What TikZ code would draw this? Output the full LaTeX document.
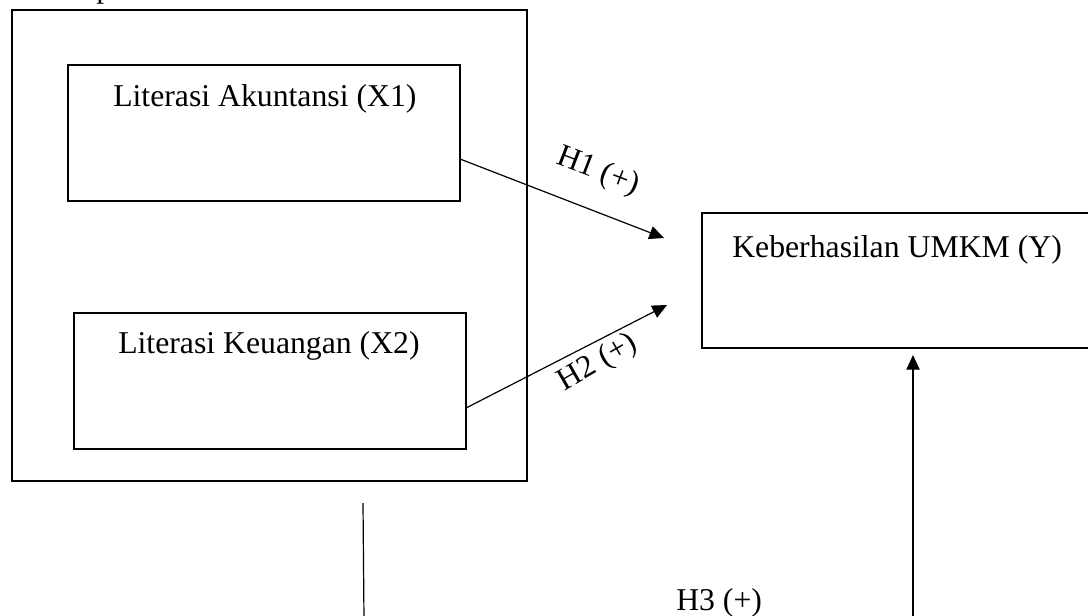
\documentclass[tikz,border=0pt]{standalone}
\usepackage{fontspec}
\setmainfont{Liberation Serif}
\usetikzlibrary{arrows.meta,calc}
\begin{document}
\begin{tikzpicture}[x=0.75pt,y=-0.75pt,
 box/.style={draw, line width=2pt, rectangle, inner sep=0pt, outer sep=0pt},
 lbl/.style={font=\fontsize{23.8}{28}\selectfont, inner sep=0pt, anchor=base west},
 hyp/.style={font=\fontsize{23.8}{28}\selectfont, inner sep=0pt},
 conn/.style={line width=0.9pt},
 arr/.style={conn, -{Triangle[length=11pt,width=10pt]}}]
\useasboundingbox (0,0) rectangle (1088,615);
% boxes
\node[box, minimum width=386.25pt, minimum height=353.25pt] (outer) at (269.5,245.5) {};
\node[box, minimum width=294pt, minimum height=102pt] (x1) at (264,133) {};
\node[box, minimum width=294pt, minimum height=102pt] (x2) at (270,381) {};
\node[box, minimum width=298.5pt, minimum height=101.25pt] (y) at (901,280.5) {};
% texts
\node[lbl] (frag) at (96,-3) {p};
\node[lbl] (x1t) at (113,106) {Literasi Akuntansi (X1)};
\node[lbl] (x2t) at (118,353) {Literasi Keuangan (X2)};
\node[lbl] (yt) at (732,257) {Keberhasilan UMKM (Y)};
% connectors
\coordinate (h1tip) at (664,238);
\coordinate (h2tip) at (667,305);
\draw[arr] ([yshift=-19.5pt]x1.east) -- (h1tip);
\draw[arr] ([yshift=-20.25pt]x2.east) -- (h2tip);
\coordinate (h3s) at (913,620);
\coordinate (h3e) at (913,355);
\draw[arr] (h3s) -- (h3e);
\coordinate (ls) at (363,503);
\coordinate (le) at (364,620);
\draw[conn] (ls) -- (le);
% hypothesis labels
\node[hyp, rotate=-21] (h1) at (598,172) {H1 (+)};
\node[hyp, rotate=30] (h2) at (598,363) {H2 (+)};
\node[hyp, anchor=base west] (h3) at (676,610) {H3 (+)};
\end{tikzpicture}
\end{document}
